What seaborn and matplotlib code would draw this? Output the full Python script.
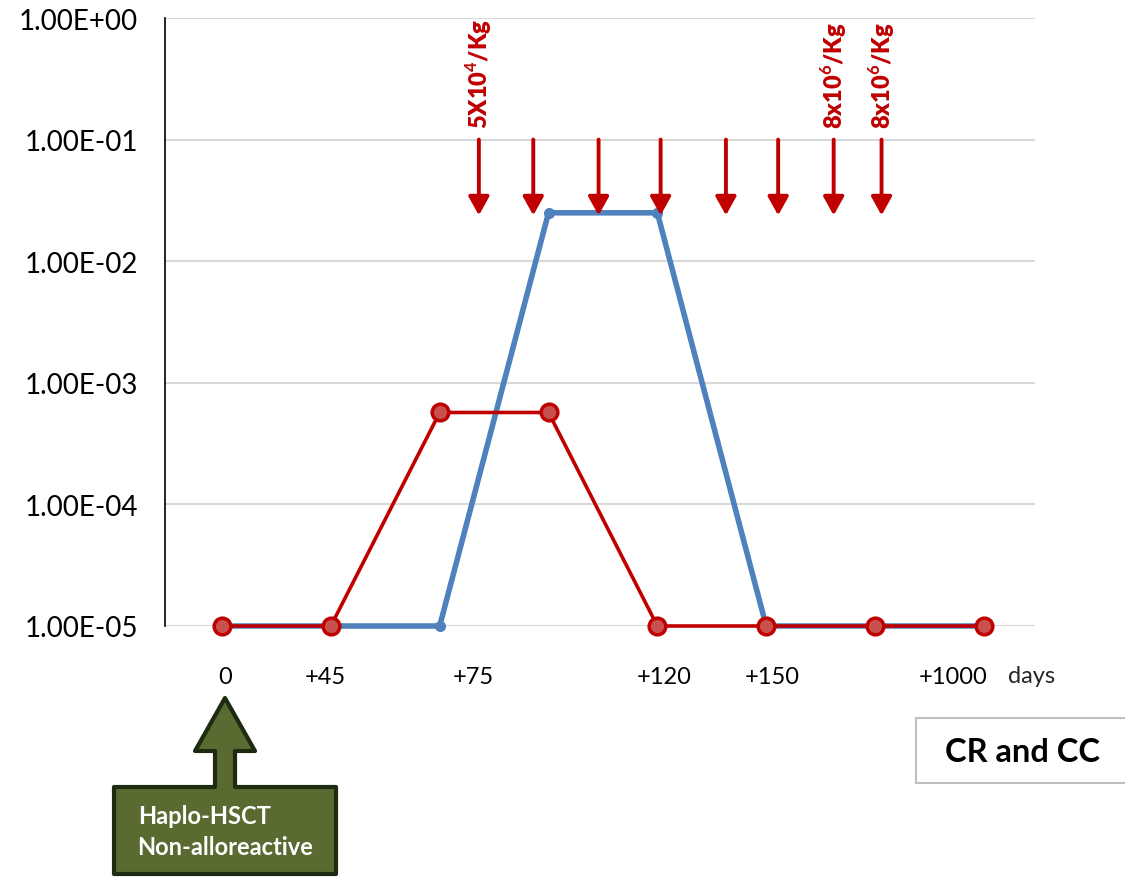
import matplotlib
matplotlib.use("Agg")
import matplotlib.pyplot as plt
import seaborn as sns
import numpy as np
import pandas as pd
from matplotlib.patches import Polygon, Rectangle

# ---- data ----
positions = [0, 1, 2, 3, 4, 5, 6, 7]
blue_values = [1e-5, 1e-5, 1e-5, 2.5e-2, 2.5e-2, 1e-5, 1e-5, 1e-5]
red_values = [1e-5, 1e-5, 5.7e-4, 5.7e-4, 1e-5, 1e-5, 1e-5, 1e-5]
xtick_labels = ["0", "+45", "+75", "+120", "+150", "+1000"]
xtick_pos = [0.03, 0.95, 2.31, 4.06, 5.06, 6.72]
ytick_values = [1e-5, 1e-4, 1e-3, 1e-2, 1e-1, 1e0]
ytick_labels = ["1.00E-05", "1.00E-04", "1.00E-03", "1.00E-02", "1.00E-01", "1.00E+00"]
dose_arrow_x = [2.36, 2.86, 3.46, 4.03, 4.63, 5.11, 5.62, 6.06]
dose_labels = {0: r"5X10$^{\mathbf{4}}$/Kg", 6: r"8x10$^{\mathbf{6}}$/Kg", 7: r"8x10$^{\mathbf{6}}$/Kg"}

sns.set_theme(style="white")
plt.rcParams['font.family'] = ['Lato', 'DejaVu Sans']
plt.rcParams['mathtext.fontset'] = 'custom'
plt.rcParams['mathtext.rm'] = 'Lato'
plt.rcParams['mathtext.bf'] = 'Lato:bold'

W, H = 1125, 878
fig = plt.figure(figsize=(W / 100, H / 100), dpi=100)
ax = fig.add_axes([165 / W, 1 - 627 / H, (1035 - 165) / W, (627 - 19) / H])

BLUE = "#4F81BD"
RED = "#C00000"

sns.lineplot(x=positions, y=blue_values, ax=ax, color=BLUE, linewidth=4,
             marker='o', markersize=8, markeredgewidth=0, zorder=3, clip_on=False)
sns.lineplot(x=positions, y=red_values, ax=ax, color=RED, linewidth=2.6,
             marker='o', markersize=12, markerfacecolor="#C8504F",
             markeredgecolor=RED, markeredgewidth=2.5, zorder=4, clip_on=False)

ax.set_yscale('log')
ax.set_ylim(1e-5, 1e0)
ax.set_xlim(-0.524, 7.47)
ax.set_yticks(ytick_values)
ax.set_yticklabels(ytick_labels, fontsize=20, color="black")
ax.minorticks_off()
ax.yaxis.grid(True, color="#D9D9D9", linewidth=1.5)
ax.set_axisbelow(True)
ax.tick_params(axis='y', length=0, pad=19.5)
ax.set_xticks(xtick_pos)
ax.set_xticklabels(xtick_labels, fontsize=17, color="black")
ax.tick_params(axis='x', length=0, pad=29)
ax.set_xlabel("")
ax.set_ylabel("")
for s in ["top", "right", "bottom"]:
    ax.spines[s].set_visible(False)
ax.spines["left"].set_color("black")
ax.spines["left"].set_linewidth(1.2)

ax.text(7.22, 10 ** (-5 - 50 / 122), "days", fontsize=17, ha='left', va='center')

# dose arrows
for i, xa in enumerate(dose_arrow_x):
    ax.annotate("", xy=(xa, 10 ** (-1 - 76 / 122)), xytext=(xa, 1e-1),
                arrowprops=dict(arrowstyle='-|>,head_length=0.45,head_width=0.25',
                                color=RED, lw=2.8, shrinkA=0, shrinkB=0,
                                mutation_scale=25), zorder=5)
    if i in dose_labels:
        ax.text(xa, 10 ** (-1 + 12 / 122), dose_labels[i], rotation=90,
                ha='center', va='bottom', color=RED, fontsize=17,
                fontweight='heavy')

# green callout
pts_px = [(114, 788), (215, 788), (215, 752), (195, 752), (225, 699), (255, 752),
          (235, 752), (235, 788), (336, 788), (336, 875), (114, 875)]
pts = [(x / W, 1 - y / H) for x, y in pts_px]
fig.patches.append(Polygon(pts, closed=True, transform=fig.transFigure,
                           facecolor="#596B30", edgecolor="#1E2A12", linewidth=3,
                           joinstyle='round'))
fig.text(205 / W, 1 - 817 / H, "Haplo-HSCT", color="white", fontsize=17,
         fontweight='bold', ha='center', va='center')
fig.text(225 / W, 1 - 848 / H, "Non-alloreactive", color="white", fontsize=17,
         fontweight='bold', ha='center', va='center')

# CR and CC box
fig.patches.append(Rectangle((916 / W, 1 - 784 / H), (1140 - 916) / W, 65 / H,
                             transform=fig.transFigure, facecolor="white",
                             edgecolor="#BFBFBF", linewidth=1.5))
fig.text(1022 / W, 1 - 753 / H, "CR and CC", color="black", fontsize=23.5,
         fontweight='bold', ha='center', va='center')

fig.savefig("out.png", dpi=100)
